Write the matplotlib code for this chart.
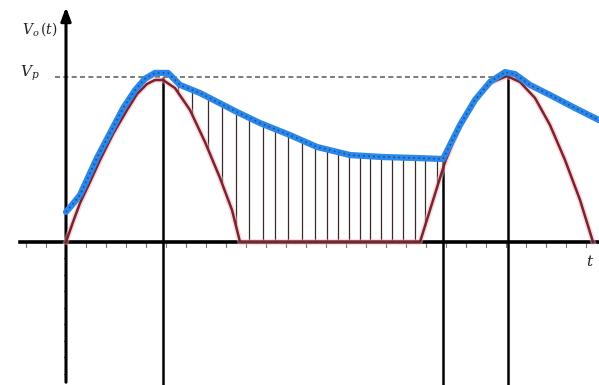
import numpy as np
import matplotlib
matplotlib.use("Agg")
import matplotlib.pyplot as plt

plt.rcParams["mathtext.fontset"] = "dejavuserif"

# Rectified sine (red) : time (arbitrary units), voltage normalised to Vp = 1
red_t = [0, 0.07, 0.14, 0.24, 0.34, 0.47, 0.61, 0.71, 0.81, 0.89, 0.97, 1.09, 1.24, 1.39,
         1.54, 1.66, 1.74,
         3.54, 3.79, 3.94, 4.09, 4.24, 4.41, 4.54, 4.69, 4.84, 4.99, 5.14, 5.27]
red_v = [0, 0.121, 0.236, 0.364, 0.497, 0.655, 0.800, 0.897, 0.958, 0.982, 0.982, 0.933, 0.80,
         0.606, 0.388, 0.194, 0,
         0, 0.485, 0.709, 0.861, 0.964, 1.006, 0.970, 0.873, 0.709, 0.497, 0.255, 0]

# Filtered output (blue)
blue_t = [0, 0.06, 0.14, 0.31, 0.44, 0.57, 0.69, 0.79, 0.89, 1.02, 1.14, 1.34, 1.71, 1.94,
          2.24, 2.51, 2.84, 3.17, 3.51, 3.77, 3.84, 3.94, 4.09, 4.24, 4.39, 4.49, 4.64, 4.84,
          5.09, 5.33]
blue_v = [0.182, 0.224, 0.285, 0.51, 0.66, 0.81, 0.92, 0.99, 1.025, 1.025, 0.952, 0.903,
          0.788, 0.721, 0.648, 0.576, 0.527, 0.515, 0.509, 0.503, 0.588, 0.709, 0.861, 0.97,
          1.03, 1.018, 0.952, 0.891, 0.812, 0.739]

# Hatch (discharge region) positions
hatch_t = [1.12, 1.26, 1.42, 1.56, 1.70, 1.83, 1.97, 2.09, 2.22, 2.36, 2.49, 2.61, 2.72,
           2.83, 2.94, 3.04, 3.15, 3.26, 3.37, 3.49, 3.59, 3.71]

# Marker verticals: position and top
mark_t = [0.97, 3.77, 4.42]
mark_top = [1.0, 0.50, 1.0]

VP = 1.0
XMIN, XMAX = -0.66, 5.33
YMIN, YMAX = -0.867, 1.467

fig = plt.figure(figsize=(5.99, 3.85), dpi=100)
ax = fig.add_axes([0, 0, 1, 1])
ax.set_xlim(XMIN, XMAX)
ax.set_ylim(YMIN, YMAX)
ax.axis("off")

# minor ticks on axes
for tx in np.arange(-0.4, 5.3, 0.2):
    ax.plot([tx, tx], [-0.03, 0.0], color="#777777", lw=0.8, zorder=1)
for vy in np.arange(-0.8, 0, 0.1):
    ax.plot([-0.02, 0.0], [vy, vy], color="#555555", lw=0.8, zorder=1)

# axes
ax.plot([-0.46, 5.33], [0, 0], color="black", lw=2.6, zorder=3)
ax.annotate("", xy=(0, 1.44), xytext=(0, YMIN),
            arrowprops=dict(arrowstyle="-|>,head_length=0.8,head_width=0.3",
                            color="black", lw=2.2), zorder=3)

# Vp dashed line
ax.plot([-0.11, 4.44], [VP, VP], color="#666666", lw=1.2, ls=(0, (3, 2)), zorder=2)

# hatch lines
red_at = np.interp(hatch_t, red_t, red_v)
blue_at = np.interp(hatch_t, blue_t, blue_v)
ax.vlines(hatch_t, red_at, blue_at, color="#3a2a2a", lw=0.9, zorder=2)

# marker verticals
ax.vlines(mark_t, YMIN, mark_top, color="black", lw=1.8, zorder=4)

# curves
ax.plot(red_t, red_v, color="#f4b0b8", lw=4.0, alpha=0.5, zorder=4)
ax.plot(red_t, red_v, color="#7a2230", lw=1.8, zorder=5)
ax.plot(blue_t, blue_v, color="#2b88e8", lw=4.5, zorder=6, solid_capstyle="round")
ax.plot(blue_t, blue_v, color="#1a4f9a", lw=1.2, ls=(0, (1, 2)), zorder=7)

# labels
ax.text(-0.26, 1.289, r"$V_o\,(t)$", fontsize=10,
        ha="center", va="center", color="#222222")
ax.text(-0.36, 1.025, r"$V_p$", fontsize=11,
        ha="center", va="center", color="#222222")
ax.text(5.24, -0.12, r"$t$", fontsize=11, ha="center", va="center", color="#222222")

fig.savefig("out.png", dpi=100)
